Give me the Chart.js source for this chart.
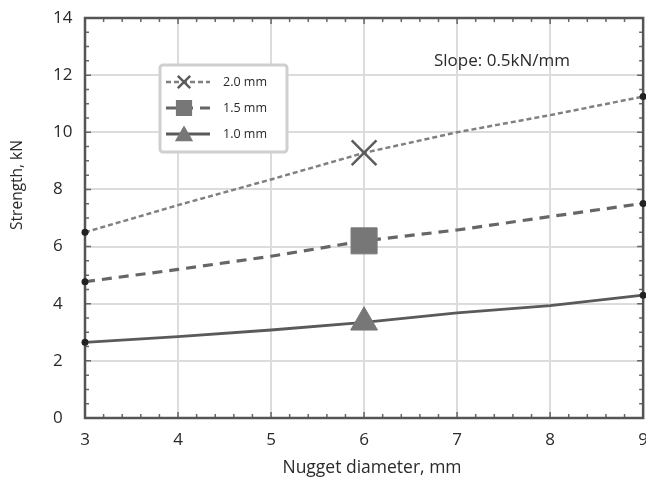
<!DOCTYPE html>
<html>
<head>
<meta charset="utf-8">
<script src="https://cdn.jsdelivr.net/npm/chart.js@4.4.1/dist/chart.umd.min.js"></script>
<style>
  html, body { margin: 0; padding: 0; background: #fff; overflow: hidden; }
  canvas { display: block; }
</style>
</head>
<body>
<canvas id="chart" width="660" height="486"></canvas>
<script>
// nugget diameter (mm) and joint strength (kN) for three sheet thicknesses
const diameters = [3, 4, 5, 6, 7, 8, 9];
const strength20 = [6.5, 7.45, 8.35, 9.28, 10.0, 10.6, 11.25];
const strength15 = [4.77, 5.2, 5.66, 6.2, 6.58, 7.05, 7.51];
const strength10 = [2.65, 2.85, 3.08, 3.35, 3.68, 3.93, 4.3];
const seriesNames = ['2.0 mm', '1.5 mm', '1.0 mm'];
const markerIndex = 3; // highlighted point at 6 mm
const slopeNote = 'Slope: 0.5kN/mm';
const xTitle = 'Nugget diameter, mm';
const yTitle = 'Strength, kN';

const FONT = "'Open Sans', sans-serif";
const toPoints = arr => arr.map((v, i) => ({ x: diameters[i], y: v }));

function makeSeries(label, values, color, width, dash, style, radius, filled) {
  const last = values.length - 1;
  return {
    label,
    data: toPoints(values),
    borderColor: color,
    borderWidth: width,
    borderDash: dash,
    clip: 10,
    pointStyle: c => c.dataIndex === markerIndex ? style : 'circle',
    pointRadius: c => c.dataIndex === markerIndex ? radius : (c.dataIndex === 0 || c.dataIndex === last ? 3.5 : 0),
    pointBackgroundColor: c => c.dataIndex === markerIndex ? (filled ? '#777' : 'rgba(0,0,0,0)') : '#222',
    pointBorderColor: c => c.dataIndex === markerIndex ? (filled ? '#777' : '#5c5c5c') : '#222',
    pointBorderWidth: c => c.dataIndex === markerIndex ? (filled ? 1 : 2.5) : 0,
    pointHoverRadius: 0,
    legendStyle: style,
    legendRadius: radius * 0.5,
    legendFilled: filled
  };
}

// minor ticks inside the frame, frame box, axis titles and the note
const framePlugin = {
  id: 'frame',
  beforeDatasetsDraw(chart) {
    const { ctx, chartArea: a, scales: { x, y } } = chart;
    ctx.save();
    ctx.strokeStyle = '#666';
    ctx.lineWidth = 1.5;
    ctx.beginPath();
    for (let v = 3; v <= 9.001; v += 0.2) {
      const px = x.getPixelForValue(v);
      const len = Math.abs(v - Math.round(v)) < 0.01 ? 6 : 4;
      ctx.moveTo(px, a.bottom); ctx.lineTo(px, a.bottom - len);
      ctx.moveTo(px, a.top); ctx.lineTo(px, a.top + len);
    }
    for (let v = 0; v <= 14.001; v += 0.5) {
      const py = y.getPixelForValue(v);
      const len = Math.abs(v / 2 - Math.round(v / 2)) < 0.01 ? 6 : 4;
      ctx.moveTo(a.left, py); ctx.lineTo(a.left + len, py);
      ctx.moveTo(a.right, py); ctx.lineTo(a.right - len, py);
    }
    ctx.stroke();
    ctx.strokeStyle = '#555';
    ctx.lineWidth = 2.5;
    ctx.strokeRect(a.left, a.top, a.right - a.left, a.bottom - a.top);
    ctx.restore();
  },
  afterDraw(chart) {
    const { ctx } = chart;
    ctx.save();
    ctx.fillStyle = '#2a2a2a';
    ctx.textAlign = 'center';
    ctx.textBaseline = 'middle';
    ctx.font = '17.5px ' + FONT;
    ctx.fillText(xTitle, 372, 468);
    ctx.font = '17px ' + FONT;
    ctx.fillText(slopeNote, 502, 61);
    ctx.save();
    ctx.translate(18, 185);
    ctx.rotate(-Math.PI / 2);
    ctx.font = '15.5px ' + FONT;
    ctx.fillText(yTitle, 0, 0);
    ctx.restore();

    // legend box
    const bx = 160, by = 65, bw = 127, bh = 87;
    ctx.strokeStyle = '#cfcfcf';
    ctx.lineWidth = 3;
    ctx.beginPath();
    ctx.roundRect(bx, by, bw, bh, 3);
    ctx.fillStyle = '#fff';
    ctx.fill();
    ctx.stroke();
    chart.data.datasets.forEach((ds, i) => {
      const cy = 82 + i * 26;
      ctx.save();
      ctx.strokeStyle = ds.borderColor;
      ctx.lineWidth = ds.borderWidth;
      ctx.setLineDash(ds.borderDash || []);
      ctx.beginPath();
      ctx.moveTo(166, cy); ctx.lineTo(210, cy);
      ctx.stroke();
      ctx.setLineDash([]);
      ctx.fillStyle = '#777';
      ctx.strokeStyle = ds.legendFilled ? '#777' : '#5c5c5c';
      Chart.helpers.drawPoint(ctx, {
        pointStyle: ds.legendStyle,
        radius: ds.legendRadius,
        rotation: 0,
        borderWidth: ds.legendFilled ? 1 : 1.5
      }, 184, ds.legendStyle === 'triangle' ? cy + 2 : cy);
      ctx.restore();
      ctx.fillStyle = '#2a2a2a';
      ctx.textAlign = 'left';
      ctx.font = '12.5px ' + FONT;
      ctx.fillText(ds.label, 223, cy);
    });
    ctx.restore();
  }
};

new Chart(document.getElementById('chart'), {
  type: 'line',
  data: {
    datasets: [
      makeSeries(seriesNames[0], strength20, '#808080', 2.5, [5, 3], 'crossRot', 17.5, false),
      makeSeries(seriesNames[1], strength15, '#666', 3.2, [10, 7], 'rect', 18.4, true),
      makeSeries(seriesNames[2], strength10, '#5a5a5a', 2.8, [], 'triangle', 15.5, true)
    ]
  },
  options: {
    responsive: false,
    animation: false,
    layout: { padding: { left: 53, top: 18, right: 11, bottom: 0 } },
    plugins: { legend: { display: false }, tooltip: { enabled: false } },
    elements: { line: { tension: 0 } },
    scales: {
      x: {
        type: 'linear',
        min: 3, max: 9,
        afterFit: s => { s.height = 68; },
        grid: { color: '#dcdcdc', lineWidth: 2, drawTicks: false },
        border: { display: false },
        ticks: { stepSize: 1, padding: 12, color: '#2a2a2a', font: { family: FONT, size: 17 } }
      },
      y: {
        min: 0, max: 14,
        afterFit: s => { s.width = 32; },
        grid: { color: '#dcdcdc', lineWidth: 2, drawTicks: false },
        border: { display: false },
        ticks: { stepSize: 2, crossAlign: 'far', color: '#2a2a2a', font: { family: FONT, size: 17 } }
      }
    }
  },
  plugins: [framePlugin]
});
</script>
</body>
</html>
